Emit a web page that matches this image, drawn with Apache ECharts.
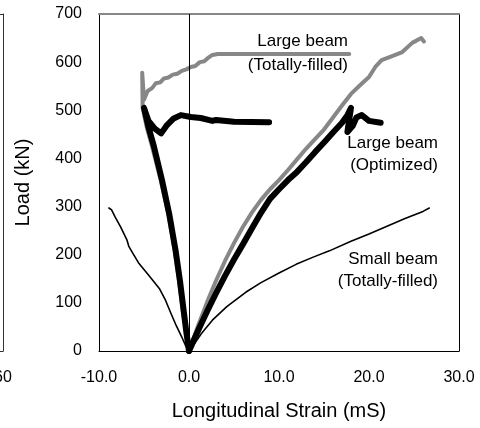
<!DOCTYPE html>
<html>
<head>
<meta charset="utf-8">
<script src="https://cdn.jsdelivr.net/npm/echarts@6/dist/echarts.min.js"></script>
<style>
  html, body { margin: 0; padding: 0; background: #fff; }
  #chart { width: 480px; height: 428px; }
</style>
</head>
<body>
<div id="chart"></div>
<script>
// Load (kN) against longitudinal strain (mS) for three beams.
// Each beam has a compression-side gauge (negative strain) and a tension-side gauge.

// Large beam, totally filled
const largeFilledComp = [
  [0, 0], [-0.4, 50], [-0.7, 85], [-1.1, 145], [-1.6, 210], [-2.3, 285], [-3.15, 355],
  [-4.1, 425], [-4.7, 465], [-5.15, 505], [-5.2, 578], [-5.0, 522], [-4.6, 540],
  [-4.1, 546], [-3.7, 556], [-3.2, 558], [-2.8, 566], [-2.3, 568], [-1.8, 574], [-1.3, 576],
  [-0.8, 582], [-0.3, 585], [0.2, 590], [0.7, 592], [1.2, 600], [1.7, 602], [2.2, 610],
  [2.6, 615], [3.2, 617], [17.8, 617]
];
const largeFilledTens = [
  [0, 0], [1, 52], [2, 101], [3, 146], [4, 187], [5, 224], [6, 258], [7, 288], [8, 314],
  [9, 336], [10, 355], [11, 376], [12, 398], [13, 420], [14, 440], [15, 460], [16, 485],
  [17, 510], [18, 534], [19, 552], [20, 569], [20.7, 590], [21.4, 604], [22.5, 612],
  [23.7, 621], [24.8, 640], [25.8, 650], [26.1, 643]
];

// Large beam, optimized
const largeOptComp = [
  [0, 0], [-0.3, 40], [-0.6, 85], [-1.0, 145], [-1.5, 210], [-2.2, 285], [-3.0, 355],
  [-3.9, 425], [-4.5, 465], [-5.0, 505], [-4.5, 478], [-3.8, 462], [-3.1, 452],
  [-2.5, 468], [-1.7, 483], [-0.9, 490], [0.2, 486], [1.3, 484], [2.6, 478], [3.0, 480],
  [5.0, 476], [8.9, 475]
];
const largeOptTens = [
  [0, 0], [1, 42], [2, 82], [3, 120], [4, 156], [5, 190], [6, 222], [7, 255], [8, 287],
  [9, 316], [10, 336], [11, 355], [12, 372], [13, 392], [14, 413], [15, 433], [16, 454],
  [17, 474], [17.6, 490], [18.0, 505], [17.8, 480], [17.6, 455], [18.2, 468], [18.6, 485],
  [19.2, 490], [20.0, 478], [21.3, 474]
];

// Small beam, totally filled
const smallFilledComp = [
  [0, 0], [-0.4, 12], [-0.8, 29], [-1.4, 52], [-2.0, 78], [-2.6, 105], [-3.3, 130],
  [-4.5, 158], [-5.6, 183], [-6.3, 205], [-6.7, 218], [-6.9, 231], [-7.6, 258],
  [-8.2, 278], [-8.6, 293], [-8.9, 297]
];
const smallFilledTens = [
  [0, 0], [0.6, 15], [1.4, 37], [2.6, 64], [4.2, 92], [6.3, 122], [8.0, 142], [10.0, 162],
  [11.9, 180], [13.8, 195], [15.6, 208], [18.0, 228], [20.0, 243], [22.0, 259],
  [24.0, 275], [26.0, 290], [26.7, 297]
];

// Axis ticks
const strainTicks = [-10, 0, 10, 20, 30];
const loadTicks = [0, 100, 200, 300, 400, 500, 600, 700];

// Curve captions
const captionFilledLarge = ['Large beam', '(Totally-filled)'];
const captionOptLarge = ['Large beam', '(Optimized)'];
const captionFilledSmall = ['Small beam', '(Totally-filled)'];

const FONT = '"Liberation Sans", Arial, sans-serif';
const GREY = '#878787';

const chart = echarts.init(document.getElementById('chart'), null, { renderer: 'canvas' });

function curve(name, data, color, width, z) {
  return {
    name, type: 'line', data, xAxisIndex: 0, yAxisIndex: 0,
    showSymbol: false, symbol: 'none', smooth: false, z,
    lineStyle: { color, width, join: 'round', cap: 'round' },
    emphasis: { disabled: true }, animation: false
  };
}

function captionText(lines, right, top, gap) {
  return lines.map((t, i) => ({
    type: 'text', right, top: top + i * gap, z: 10,
    style: { text: t, font: '17px ' + FONT, fill: '#000', align: 'right' }
  }));
}

const option = {
  animation: false,
  backgroundColor: '#fff',
  grid: [
    { left: 99, right: 21, top: 14, bottom: 77, containLabel: false, outerBoundsMode: 'none' },
    // neighbouring panel, mostly off the left edge
    { left: -300, width: 303, top: 14, bottom: 77, containLabel: false, outerBoundsMode: 'none' }
  ],
  xAxis: [
    {
      gridIndex: 0, type: 'value', position: 'bottom',
      min: strainTicks[0], max: strainTicks[strainTicks.length - 1], interval: 10,
      name: 'Longitudinal Strain (mS)', nameLocation: 'middle', nameGap: 50,
      nameTextStyle: { fontFamily: FONT, fontSize: 20, color: '#000' },
      axisLine: { show: true, onZero: false, lineStyle: { color: '#000', width: 1 } },
      axisTick: { show: false },
      splitLine: { show: false },
      axisLabel: { fontFamily: FONT, fontSize: 16, color: '#000', margin: 19,
        formatter: v => v.toFixed(1) }
    },
    {
      gridIndex: 0, type: 'value', position: 'top',
      min: strainTicks[0], max: strainTicks[strainTicks.length - 1],
      axisLine: { show: true, onZero: false, lineStyle: { color: GREY, width: 2 } },
      axisTick: { show: false }, axisLabel: { show: false }, splitLine: { show: false }
    },
    {
      gridIndex: 1, type: 'value', position: 'bottom', min: 0, max: 60, interval: 20,
      axisLine: { show: true, onZero: false, lineStyle: { color: '#333', width: 1 } },
      axisTick: { show: false }, splitLine: { show: false },
      axisLabel: { fontFamily: FONT, fontSize: 16, color: '#000', margin: 19,
        hideOverlap: false, showMinLabel: true, showMaxLabel: true }
    },
    {
      gridIndex: 1, type: 'value', position: 'top', min: 0, max: 60,
      axisLine: { show: true, onZero: false, lineStyle: { color: '#333', width: 1 } },
      axisTick: { show: false }, axisLabel: { show: false }, splitLine: { show: false }
    }
  ],
  yAxis: [
    {
      gridIndex: 0, type: 'value', position: 'left',
      min: loadTicks[0], max: loadTicks[loadTicks.length - 1], interval: 100,
      name: 'Load (kN)', nameLocation: 'middle', nameGap: 66,
      nameTextStyle: { fontFamily: FONT, fontSize: 20, color: '#000' },
      axisLine: { show: true, onZero: false, lineStyle: { color: '#000', width: 1 } },
      axisTick: { show: false }, splitLine: { show: false },
      axisLabel: { fontFamily: FONT, fontSize: 16, color: '#000', margin: 17 }
    },
    {
      gridIndex: 0, type: 'value', position: 'right',
      min: loadTicks[0], max: loadTicks[loadTicks.length - 1],
      axisLine: { show: true, onZero: false, lineStyle: { color: '#000', width: 1 } },
      axisTick: { show: false }, axisLabel: { show: false }, splitLine: { show: false }
    },
    {
      gridIndex: 1, type: 'value', position: 'right', min: 0, max: 700,
      axisLine: { show: true, onZero: false, lineStyle: { color: '#333', width: 1 } },
      axisTick: { show: false }, axisLabel: { show: false }, splitLine: { show: false }
    }
  ],
  series: [
    {
      name: 'zero strain', type: 'line', data: [], xAxisIndex: 0, yAxisIndex: 0, z: 1,
      markLine: {
        silent: true, symbol: 'none', animation: false,
        label: { show: false },
        lineStyle: { color: '#000', width: 1, type: 'solid' },
        emphasis: { disabled: true },
        data: [{ xAxis: 0 }]
      }
    },
    curve('Large beam (Totally-filled) compression', largeFilledComp, GREY, 4, 2),
    curve('Large beam (Totally-filled) tension', largeFilledTens, GREY, 4, 2),
    curve('Large beam (Optimized) compression', largeOptComp, '#000', 6, 3),
    curve('Large beam (Optimized) tension', largeOptTens, '#000', 6, 3),
    curve('Small beam (Totally-filled) compression', smallFilledComp, '#000', 1.6, 4),
    curve('Small beam (Totally-filled) tension', smallFilledTens, '#000', 1.6, 4)
  ],
  graphic: [
    ...captionText(captionFilledLarge, 132, 33, 24),
    ...captionText(captionOptLarge, 42, 135, 22),
    ...captionText(captionFilledSmall, 42, 251, 22)
  ]
};

chart.setOption(option);
</script>
</body>
</html>
